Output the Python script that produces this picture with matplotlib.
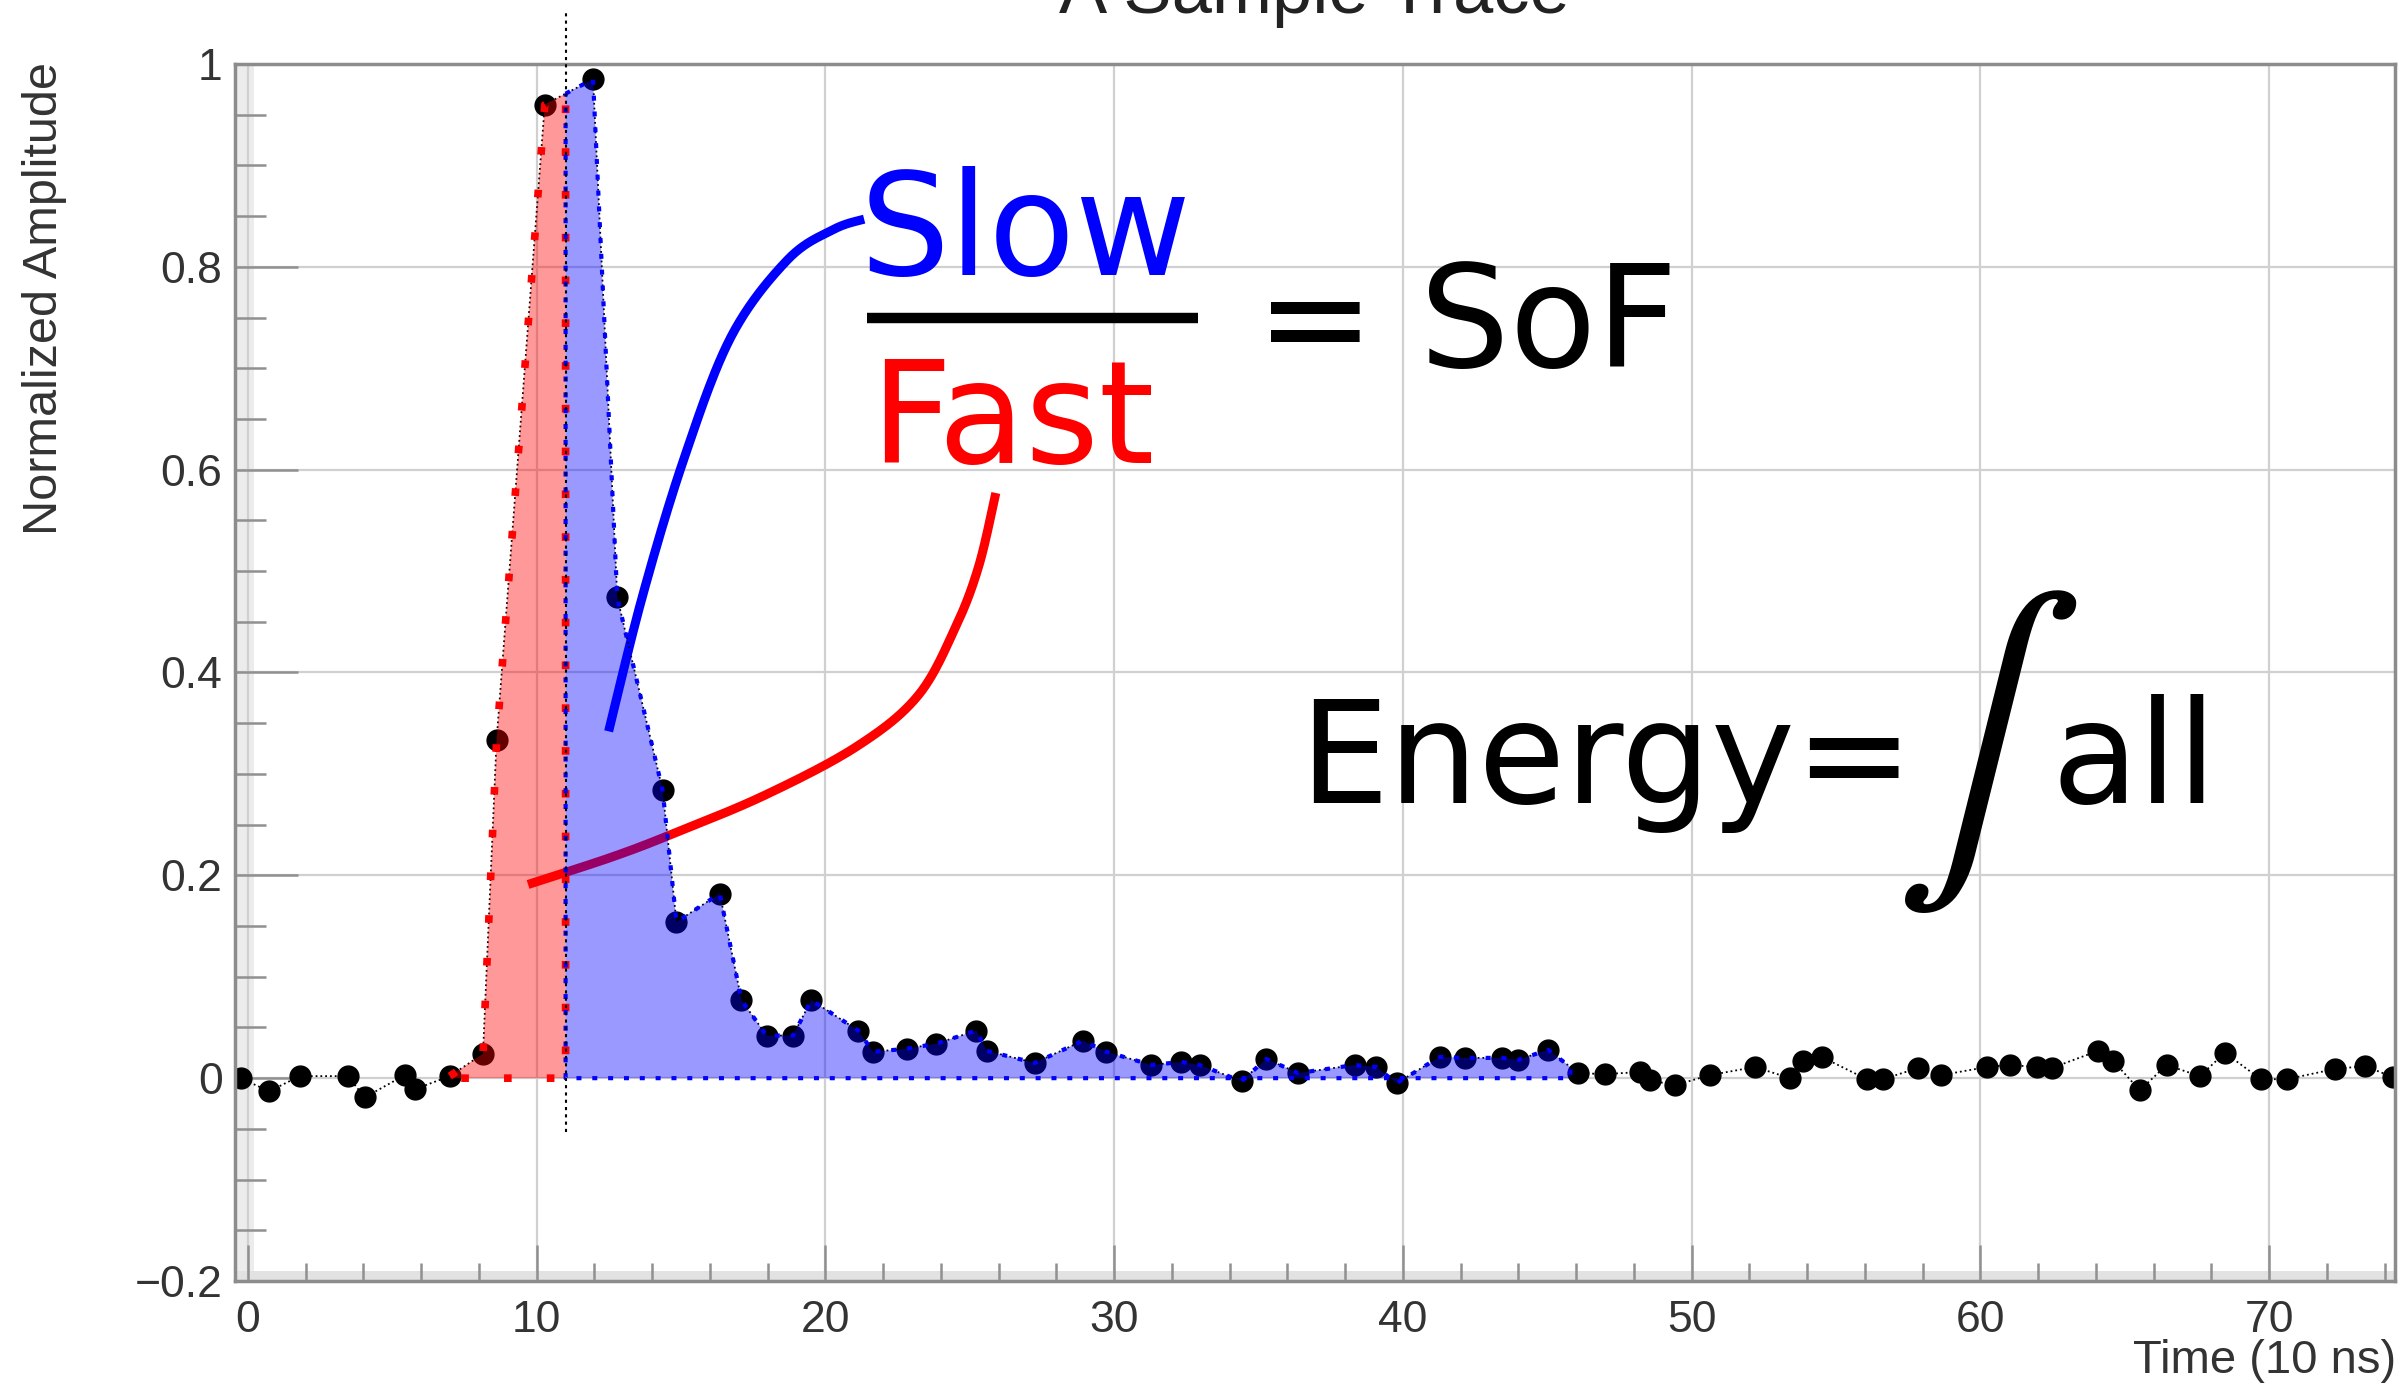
import numpy as np
import matplotlib
matplotlib.use('Agg')
import matplotlib.pyplot as plt
from matplotlib.ticker import MultipleLocator, FuncFormatter

time = [-0.25, 0.73, 1.79, 3.46, 4.04, 5.43, 5.77, 6.99, 8.14, 8.61,
        10.28, 11.95, 12.79, 14.36, 14.84, 16.34, 17.09, 17.96, 18.88, 19.51,
        21.13, 21.65, 22.81, 23.84, 25.23, 25.58, 27.25, 28.92, 29.73, 31.29,
        32.33, 32.96, 34.41, 35.27, 36.37, 38.33, 39.08, 39.78, 41.28, 42.14,
        43.42, 43.99, 45.03, 46.07, 46.99, 48.20, 48.55, 49.42, 50.63, 52.19,
        53.41, 53.86, 54.50, 56.06, 56.63, 57.84, 58.65, 60.22, 61.02, 61.95,
        62.47, 64.08, 64.60, 65.52, 66.45, 67.60, 68.47, 69.71, 70.61, 72.27,
        73.32, 74.29]
amp = [0.000, -0.013, 0.002, 0.002, -0.019, 0.003, -0.011, 0.002, 0.024, 0.333,
       0.960, 0.985, 0.474, 0.284, 0.154, 0.182, 0.077, 0.042, 0.042, 0.077,
       0.047, 0.026, 0.029, 0.034, 0.047, 0.027, 0.015, 0.037, 0.026, 0.013,
       0.016, 0.013, -0.003, 0.019, 0.005, 0.013, 0.011, -0.005, 0.021, 0.020,
       0.020, 0.018, 0.028, 0.005, 0.004, 0.006, -0.002, -0.007, 0.003, 0.011,
       0.000, 0.017, 0.021, -0.001, -0.001, 0.010, 0.003, 0.011, 0.013, 0.011,
       0.010, 0.027, 0.017, -0.012, 0.013, 0.002, 0.025, -0.001, -0.001, 0.009,
       0.012, 0.001]

# integration windows
fast_start, fast_end = 6.99, 11.0
slow_end = 45.8

# hand drawn pointers from the labels to the trace
slow_ptr_x = [12.49, 13.66, 15.09, 16.73, 18.69, 20.29, 21.34]
slow_ptr_y = [0.342, 0.475, 0.610, 0.731, 0.807, 0.837, 0.847]
fast_ptr_x = [9.70, 12.60, 14.72, 17.90, 21.08, 23.20, 24.51, 25.31, 25.90]
fast_ptr_y = [0.191, 0.218, 0.241, 0.279, 0.327, 0.377, 0.445, 0.505, 0.577]

t = np.array(time)
a = np.array(amp)


def window(x0, x1):
    # polygon under the trace between x0 and x1
    inside = (t > x0) & (t < x1)
    xs = np.concatenate([[x0], t[inside], [x1], [x1, x0]])
    ys = np.concatenate([[np.interp(x0, t, a)], a[inside], [np.interp(x1, t, a)], [0, 0]])
    return xs, ys


def smooth(xs, ys, n=25):
    # catmull-rom through the given points
    p = np.column_stack([xs, ys])
    p = np.vstack([p[0], p, p[-1]])
    s = np.linspace(0, 1, n, endpoint=False)[:, None]
    out = []
    for i in range(1, len(p) - 2):
        p0, p1, p2, p3 = p[i - 1], p[i], p[i + 1], p[i + 2]
        out.append(0.5 * (2 * p1 + (p2 - p0) * s + (2 * p0 - 5 * p1 + 4 * p2 - p3) * s ** 2
                          + (3 * p1 - p0 - 3 * p2 + p3) * s ** 3))
    out.append(p[-2][None])
    out = np.vstack(out)
    return out[:, 0], out[:, 1]


fig = plt.figure(figsize=(23.99, 13.89), dpi=100)
ax = fig.add_axes([235 / 2399, 1 - 1281 / 1389, (2395 - 235) / 2399, (1281 - 64) / 1389])
ax.set_xlim(-0.45, 74.36)
ax.set_ylim(-0.2, 1.0)

ax.axvspan(-0.45, 0.2, color='#ececec', lw=0, zorder=0.3)
ax.axhspan(-0.2, -0.19, color='#e2e2e2', lw=0, zorder=0.3)

# pointers (under the fills so they get tinted)
sx, sy = smooth(slow_ptr_x, slow_ptr_y)
ax.plot(sx, sy, color='blue', lw=6.5, solid_capstyle='butt', zorder=2)
fx, fy = smooth(fast_ptr_x, fast_ptr_y)
ax.plot(fx, fy, color='red', lw=6.5, solid_capstyle='butt', zorder=2)

# the trace
ax.plot(t, a, color='black', lw=1.3, ls=':', zorder=2.2)
ax.plot(t, a, 'o', color='black', ms=15, zorder=2.5)

# fast and slow parts
xs, ys = window(fast_start, fast_end)
ax.fill(xs, ys, facecolor='red', alpha=0.4, edgecolor='none', zorder=3)
ax.plot(np.append(xs, xs[0]), np.append(ys, ys[0]), color='red', lw=5.5, ls=(0, (1, 4.6)), zorder=4)

xs, ys = window(fast_end, slow_end)
ax.fill(xs, ys, facecolor='blue', alpha=0.4, edgecolor='none', zorder=3)
ax.plot(np.append(xs, xs[0]), np.append(ys, ys[0]), color='blue', lw=3, ls=(0, (1.2, 2.6)), zorder=4)

ax.plot([fast_end, fast_end], [-0.053, 1.05], color='black', lw=1.5, ls=(0, (1.5, 2)),
        clip_on=False, zorder=5)

# labels on the plot
big = dict(family='DejaVu Sans', fontsize=102, ha='left', va='baseline', zorder=6)
ax.text(21.2, 0.792, 'Slow', color='blue', **big)
ax.plot([21.43, 32.9], [0.750, 0.750], color='black', lw=7.5, solid_capstyle='butt', zorder=6)
ax.text(21.55, 0.607, 'Fast', color='red', **big)
ax.text(34.9, 0.701, '= SoF', color='black', **big)
ax.text(36.4, 0.271, 'Energy=', color='black', **big)
ax.text(60.2, 0.322, r'$\int$', color='black', fontsize=203, math_fontfamily='stix',
        ha='center', va='center', zorder=6)
ax.text(62.45, 0.271, 'all', color='black', **big)

# axes styling (ROOT look)
for s in ax.spines.values():
    s.set_color('#8c8c8c')
    s.set_linewidth(2.5)
ax.xaxis.set_major_locator(MultipleLocator(10))
ax.xaxis.set_minor_locator(MultipleLocator(2))
ax.yaxis.set_major_locator(MultipleLocator(0.2))
ax.yaxis.set_minor_locator(MultipleLocator(0.05))
fmt = FuncFormatter(lambda v, p: f'{round(v, 6) + 0:g}'.replace('-', '\u2212'))
ax.xaxis.set_major_formatter(fmt)
ax.yaxis.set_major_formatter(fmt)
ax.tick_params(axis='x', which='major', direction='in', length=26, width=1.8, color='#909090',
               pad=14, labelsize=32, labelcolor='#333333')
ax.tick_params(axis='x', which='minor', direction='in', length=13, width=1.8, color='#909090')
ax.tick_params(axis='y', which='major', direction='in', length=45, width=1.8, color='#909090',
               pad=9, labelsize=32, labelcolor='#333333')
ax.tick_params(axis='y', which='minor', direction='in', length=22, width=1.8, color='#909090')
for lab in ax.get_xticklabels() + ax.get_yticklabels():
    lab.set_family('Liberation Sans')
ax.grid(True, which='major', color='#d0d0d0', lw=1.6)
ax.set_axisbelow(True)

fig.text(1314 / 2399, 1 - 13 / 1389, 'A Sample Trace', ha='center', va='baseline',
         fontsize=52, family='Liberation Sans', color='#222222')
fig.text(45 / 2399, 1 - 62 / 1389, 'Normalized Amplitude', rotation=90, ha='center', va='top',
         fontsize=35, family='Liberation Sans', color='#333333')
fig.text(2396 / 2399, 1 - 1373 / 1389, 'Time (10 ns)', ha='right', va='baseline',
         fontsize=34, family='Liberation Sans', color='#333333')

fig.savefig('out.png', dpi=100)
